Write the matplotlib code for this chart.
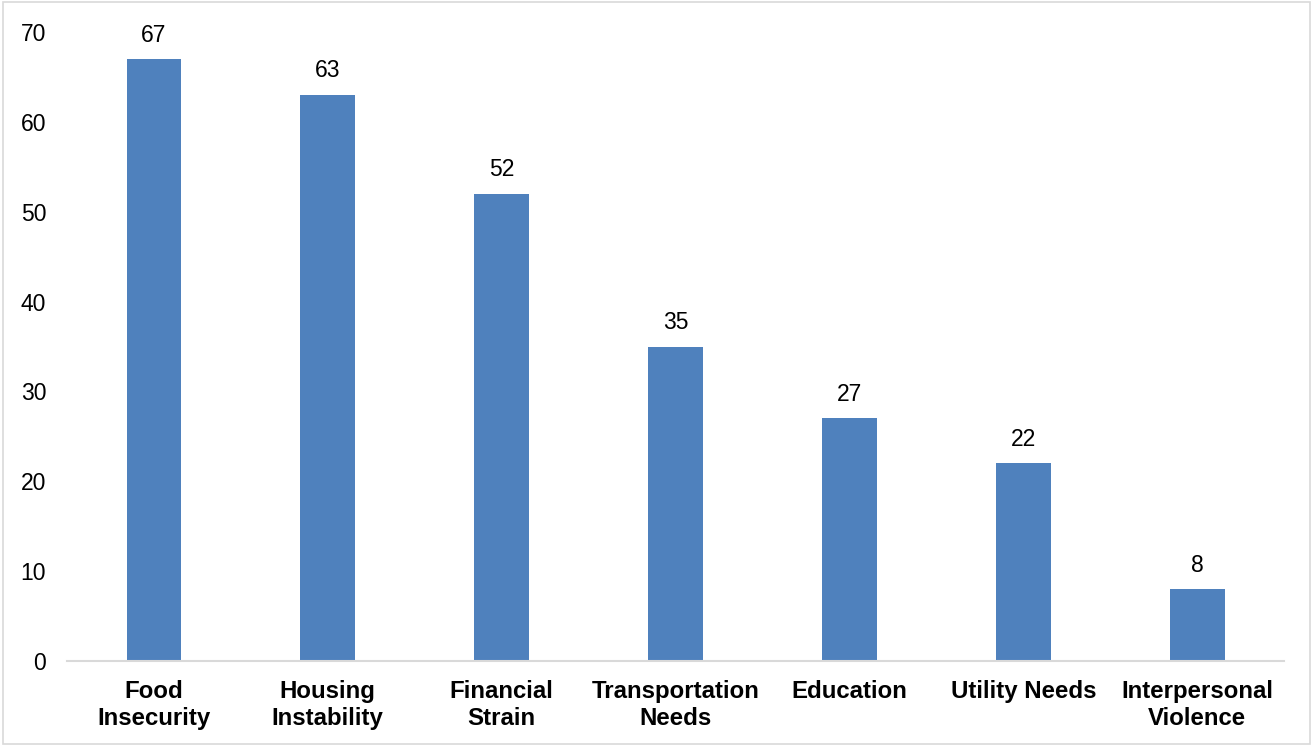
import matplotlib
matplotlib.use("Agg")
import matplotlib.pyplot as plt
import matplotlib.patches as patches

plt.rcParams['font.family'] = ['Liberation Sans', 'DejaVu Sans']

categorias = ["Food\nInsecurity", "Housing\nInstability", "Financial\nStrain",
              "Transportation\nNeeds", "Education", "Utility Needs",
              "Interpersonal\nViolence"]
valores = [67, 63, 52, 35, 27, 22, 8]
yticks = [0, 10, 20, 30, 40, 50, 60, 70]

azul = "#4F81BD"
cinza = "#D9D9D9"

fig = plt.figure(figsize=(13.13, 7.46), dpi=100)
ax = fig.add_axes([0.051, 0.114, 0.927, 0.843])

x = range(len(categorias))
barras = ax.bar(x, valores, width=0.315, color=azul, zorder=2)

# rótulos de valor acima das barras
for xi, v in zip(x, valores):
    ax.annotate(str(v), (xi, v), xytext=(0, 9), textcoords="offset points",
                ha="center", va="bottom", fontsize=16.5, color="black")

ax.set_xlim(-0.5, len(categorias) - 0.5)
ax.set_ylim(0, 70)
ax.set_yticks(yticks)
ax.set_yticklabels([str(t) for t in yticks], fontsize=16.5)
ax.set_xticks(list(x))
ax.set_xticklabels(categorias, fontsize=17.3, fontweight="bold", linespacing=1.2)

for lado in ["top", "right", "left"]:
    ax.spines[lado].set_visible(False)
ax.spines["bottom"].set_color(cinza)
ax.spines["bottom"].set_linewidth(1.5)
ax.tick_params(axis="both", length=0)
ax.tick_params(axis="y", pad=15)
ax.tick_params(axis="x", pad=14)

# moldura em volta da figura
fig.patches.append(patches.Rectangle((0.002, 0.003), 0.996, 0.994, transform=fig.transFigure,
                                     fill=False, edgecolor=cinza, linewidth=1.2))

fig.savefig("out.png", dpi=100)
